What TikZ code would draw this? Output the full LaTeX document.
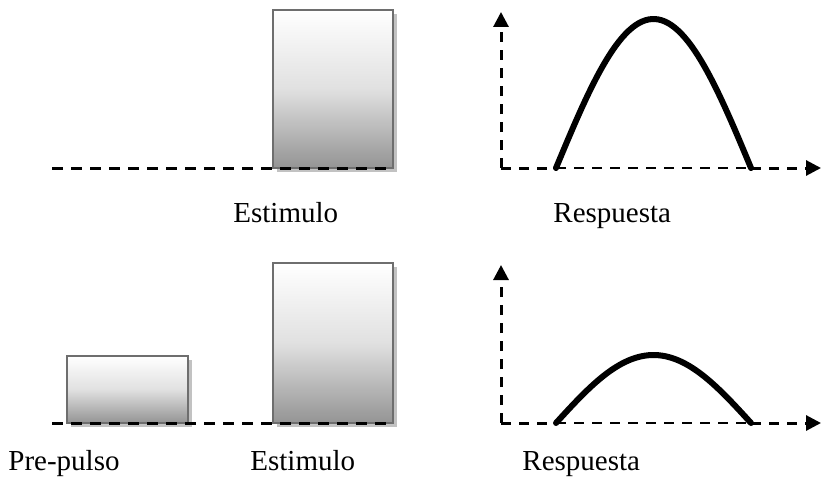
\documentclass[tikz,border=0pt]{standalone}
\usepackage{fontspec}
\setmainfont{Liberation Serif}
\usetikzlibrary{arrows.meta}
\tikzset{
  pulseshadow/.style={fill=black!24, draw=none},
  pulsebox/.style={draw=black!57, line width=1.3pt, top color=white, bottom color=black!42, middle color=black!12},
  groundline/.style={line width=1.5pt, dash pattern=on 5.5pt off 4pt},
  axisline/.style={line width=1.5pt, dash pattern=on 5pt off 4pt},
  thinaxis/.style={line width=0.6pt, dash pattern=on 5pt off 4pt},
  tip/.style={-{Triangle[length=7.5pt,width=7.5pt]}},
  response/.style={line width=3pt, line cap=round, line join=round},
  tag/.style={font=\fontsize{14.5}{17}\selectfont, inner sep=0pt, anchor=base west}
}
\begin{document}
\begin{tikzpicture}[x=0.5pt,y=-0.5pt]
  \useasboundingbox (0,0) rectangle (822,476);

  % top row: stimulus
  \fill[pulseshadow] (277,14) rectangle (397,172);
  \draw[pulsebox] (273,10) rectangle (393,168);
  \coordinate (g1a) at (52,168);
  \coordinate (g1b) at (393,168);
  \draw[groundline] (g1a) -- (g1b);
  \node[tag] (est1) at (233,222) {Estimulo};

  % top row: response
  \coordinate (y1) at (501,12);
  \coordinate (o1) at (501,168);
  \coordinate (c1a) at (556,168);
  \coordinate (c1b) at (751,168);
  \coordinate (x1) at (821,168);
  \draw[axisline,tip] (o1) -- (y1);
  \draw[axisline] (o1) -- (c1a);
  \draw[thinaxis] (c1a) -- (c1b);
  \draw[axisline,tip] (c1b) -- (x1);
  \draw[response] plot[domain=0:180, samples=60, variable=\s]
    ({556+1.0833*\s},{168-149*sin(\s)});
  \node[tag] (resp1) at (553,222) {Respuesta};

  % bottom row: pre-pulse and stimulus
  \fill[pulseshadow] (71,360) rectangle (192,427);
  \draw[pulsebox] (67,356) rectangle (188,423);
  \fill[pulseshadow] (277,267) rectangle (397,427);
  \draw[pulsebox] (273,263) rectangle (393,423);
  \coordinate (g2a) at (52,423);
  \coordinate (g2b) at (393,423);
  \draw[groundline] (g2a) -- (g2b);
  \node[tag] (pre) at (8,470) {Pre-pulso};
  \node[tag] (est2) at (250,470) {Estimulo};

  % bottom row: response
  \coordinate (y2) at (501,265);
  \coordinate (o2) at (501,423);
  \coordinate (c2a) at (556,423);
  \coordinate (c2b) at (751,423);
  \coordinate (x2) at (821,423);
  \draw[axisline,tip] (o2) -- (y2);
  \draw[axisline] (o2) -- (c2a);
  \draw[thinaxis] (c2a) -- (c2b);
  \draw[axisline,tip] (c2b) -- (x2);
  \draw[response] plot[domain=0:180, samples=60, variable=\s]
    ({556+1.0833*\s},{423-68*sin(\s)});
  \node[tag] (resp2) at (522,470) {Respuesta};
\end{tikzpicture}
\end{document}
